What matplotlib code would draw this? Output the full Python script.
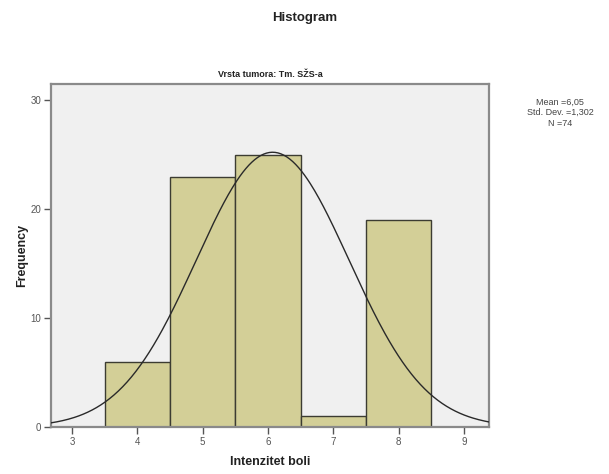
import numpy as np
import matplotlib
matplotlib.use("Agg")
import matplotlib.pyplot as plt

plt.rcParams["font.family"] = ["Liberation Sans", "DejaVu Sans"]

# histogram bins (centre values) and counts
bin_centers = [4, 5, 6, 7, 8]
counts = [6, 23, 25, 1, 19]
x_ticks = [3, 4, 5, 6, 7, 8, 9]
y_ticks = [0, 10, 20, 30]

# normal curve as drawn in the picture
n_total = 74
curve_mean = 6.07
curve_sd = 1.17

stats_lines = ["Mean =6,05", "Std. Dev. =1,302", "N =74"]

fig = plt.figure(figsize=(6.09, 4.74), dpi=100)
ax = fig.add_axes([0.0837, 0.0992, 0.7193, 0.7236])
ax.set_facecolor("#f0f0f0")

ax.bar(bin_centers, counts, width=1.0, color="#d3cf97",
       edgecolor="#3c3c32", linewidth=1.0, zorder=2)

xs = np.linspace(2.68, 9.38, 300)
ys = n_total / (curve_sd * np.sqrt(2 * np.pi)) * np.exp(-0.5 * ((xs - curve_mean) / curve_sd) ** 2)
ax.plot(xs, ys, color="#2a2a2a", linewidth=1.0, zorder=3)

ax.set_xlim(2.68, 9.38)
ax.set_ylim(0, 31.5)
ax.set_xticks(x_ticks)
ax.set_yticks(y_ticks)
ax.tick_params(axis="both", colors="#555555", labelsize=7, length=5, width=1.0,
               labelcolor="#555555", pad=2)
for s in ax.spines.values():
    s.set_color("#8a8a8a")
    s.set_linewidth(1.6)

ax.set_xlabel("Intenzitet boli", fontsize=9, fontweight="bold", color="#222222", labelpad=7)
ax.set_ylabel("Frequency", fontsize=9, fontweight="bold", color="#222222", labelpad=2)
ax.set_title("Vrsta tumora: Tm. SŽS-a", fontsize=6.5, fontweight="bold", color="#222222", pad=5)

fig.text(0.5, 0.962, "Histogram", ha="center", va="center", fontsize=9.5,
         fontweight="bold", color="#222222")
fig.text(0.92, 0.762, "\n".join(stats_lines), ha="center", va="center",
         fontsize=6.5, color="#444444", linespacing=1.2)

fig.savefig("out.png", dpi=100)
